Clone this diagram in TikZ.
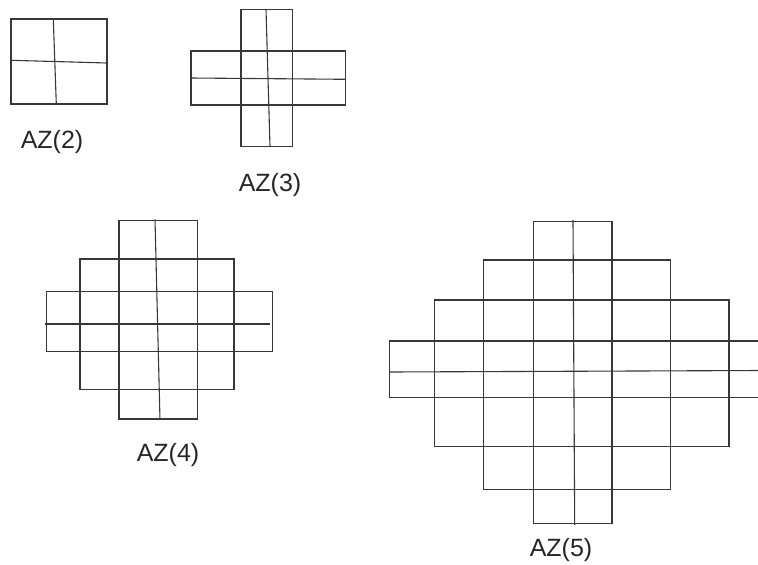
\documentclass[tikz,border=0pt]{standalone}
\usepackage{fontspec}
\setmainfont{Liberation Sans}
\begin{document}
\begin{tikzpicture}[x=1pt,y=-1pt,
  grid/.style={draw=black!78,line width=1.1pt},
  lbl/.style={inner sep=0pt,font=\fontsize{25}{30}\selectfont,text=black!85}]
\useasboundingbox (0,0) rectangle (758,565);
% AZ(2)
\draw[grid] (11,19) rectangle (107,104);
\draw[grid] (53.3,19) -- (56.3,104);
\draw[grid] (11,60.3) -- (107,63);
\node[lbl] (l2) at (52,142) {AZ(2)};
% AZ(3)
\draw[grid] (241,9.3) rectangle (292.7,146.7);
\draw[grid] (191,51) rectangle (345.7,105);
\draw[grid] (191,78) -- (345.7,79.3);
\draw[grid] (266,9.3) -- (270,146.7);
\node[lbl] (l3) at (270,185) {AZ(3)};
% AZ(4)
\draw[grid] (119,220.7) rectangle (197.7,419);
\draw[grid] (80,259) rectangle (234,389.3);
\draw[grid] (46.7,291.7) rectangle (272.3,351.7);
\draw[grid] (45,324) -- (270,324);
\draw[grid] (155,219.3) -- (160,420);
\node[lbl] (l4) at (168,455) {AZ(4)};
% AZ(5)
\draw[grid] (533.7,221.7) rectangle (612,523.3);
\draw[grid] (483.3,260) rectangle (670.7,489.3);
\draw[grid] (434.3,300) rectangle (729,446.7);
\draw[grid] (389.3,341) rectangle (764,397.7);
\draw[grid] (389.3,372) -- (760,370.5);
\draw[grid] (573,220) -- (574.7,525);
\node[lbl] (l5) at (561,550) {AZ(5)};
\end{tikzpicture}
\end{document}
